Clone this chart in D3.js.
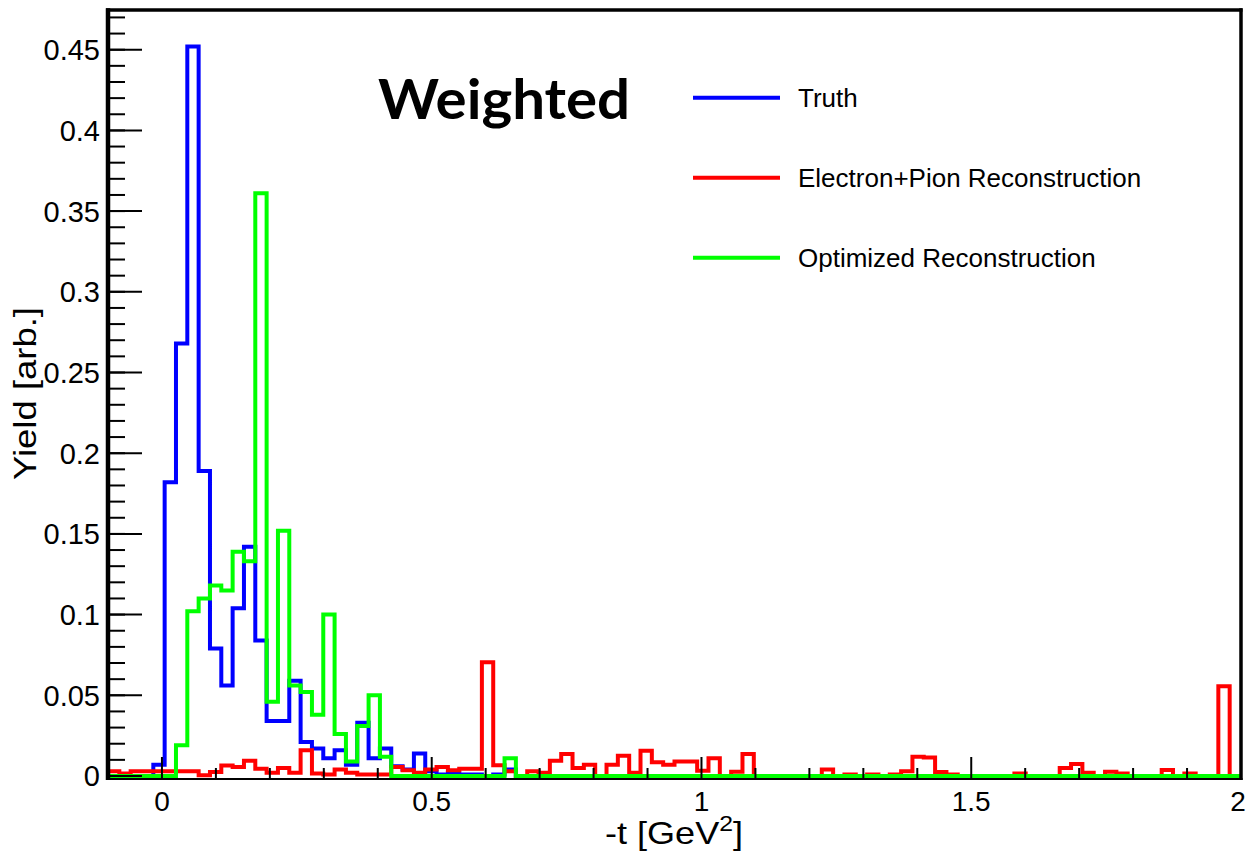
<!DOCTYPE html>
<html>
<head>
<meta charset="utf-8">
<script src="https://cdn.jsdelivr.net/npm/d3@7"></script>
<style>
  body { margin: 0; background: #fff; }
  text { font-family: "Liberation Sans", Arial, Helvetica, sans-serif; fill: #000; }
</style>
</head>
<body>
<div id="chart"></div>
<script>
// Histogram range: 100 bins from -0.1 to 2.0 in -t
const xLo = -0.1, xHi = 2.0, nBins = 100;
const yMax = 0.4746;

// Bin contents (bin 0 starts at -0.1)
const truth = [
  0, 0, 0, 0, 0.007, 0.182, 0.268, 0.452, 0.189, 0.079,
  0.056, 0.104, 0.142, 0.084, 0.034, 0.034, 0.059, 0.021, 0.017, 0.011,
  0.016, 0.007, 0.033, 0.011, 0.017, 0.006, 0.004, 0.014, 0.003, 0.001,
  0.002, 0.001, 0.001, 0, 0.001, 0.004, 0, 0, 0, 0,
  0, 0, 0, 0, 0, 0, 0, 0, 0, 0,
  0, 0, 0, 0, 0, 0, 0, 0, 0, 0,
  0, 0, 0, 0, 0, 0, 0, 0, 0, 0,
  0, 0, 0, 0, 0, 0, 0, 0, 0, 0,
  0, 0, 0, 0, 0, 0, 0, 0, 0, 0,
  0, 0, 0, 0, 0, 0, 0, 0, 0, 0
];
const electronPion = [
  0.003, 0.0015, 0.003, 0.003, 0.003, 0.003, 0.003, 0.003, 0.0005, 0.0025,
  0.0065, 0.0055, 0.0095, 0.0045, 0.002, 0.005, 0.002, 0.016, 0.0015, 0.001,
  0.004, 0.002, 0.001, 0.001, 0.001, 0.0055, 0.0035, 0.002, 0.004, 0.0055,
  0.0035, 0.0045, 0.0045, 0.0705, 0.0066, 0.003, 0, 0.003, 0.002, 0.0095,
  0.0136, 0.005, 0.007, 0, 0.007, 0.0126, 0.002, 0.0157, 0.0085, 0.007,
  0.009, 0.009, 0.0033, 0.011, 0, 0.0027, 0.0136, 0, 0, 0,
  0, 0, 0, 0.004, 0, 0.001, 0, 0.001, 0, 0.001,
  0.003, 0.012, 0.0115, 0.0025, 0.001, 0, 0, 0, 0, 0,
  0.0015, 0, 0, 0, 0.005, 0.0074, 0.002, 0, 0.0027, 0.0015,
  0, 0, 0, 0.0037, 0, 0.0015, 0, 0, 0.0556, 0
];
const optimized = [
  0, 0, 0, 0, 0, 0, 0.019, 0.102, 0.110, 0.118,
  0.115, 0.139, 0.133, 0.361, 0.046, 0.152, 0.056, 0.052, 0.038, 0.100,
  0.026, 0.009, 0.031, 0.050, 0.012, 0, 0, 0, 0, 0,
  0, 0, 0, 0, 0, 0.011, 0, 0, 0, 0,
  0, 0, 0, 0, 0, 0, 0, 0, 0, 0,
  0, 0, 0, 0, 0, 0, 0, 0, 0, 0,
  0, 0, 0, 0, 0, 0, 0, 0, 0, 0,
  0, 0, 0, 0, 0, 0, 0, 0, 0, 0,
  0, 0, 0, 0, 0, 0, 0, 0, 0, 0,
  0, 0, 0, 0, 0, 0, 0, 0, 0, 0
];

const seriesNames = ["Truth", "Electron+Pion Reconstruction", "Optimized Reconstruction"];
const seriesColors = ["#0000ff", "#ff0000", "#00ff00"];
const xMajor = [0, 0.5, 1, 1.5, 2];
const xMinor = [-0.1, 0.1, 0.2, 0.3, 0.4, 0.6, 0.7, 0.8, 0.9, 1.1, 1.2, 1.3, 1.4, 1.6, 1.7, 1.8, 1.9];
const yMajor = [0, 0.05, 0.1, 0.15, 0.2, 0.25, 0.3, 0.35, 0.4, 0.45];

const width = 1247, height = 853;
const frame = { left: 108, right: 1241, top: 10, bottom: 776 };

const svg = d3.select("#chart")
  .append("svg")
  .attr("width", width)
  .attr("height", height);

const x = d3.scaleLinear().domain([xLo, xHi]).range([frame.left, frame.right]);
const y = d3.scaleLinear().domain([0, yMax]).range([frame.bottom, frame.top]);

// bin edges
const edges = d3.range(nBins + 1).map(i => xLo + i * (xHi - xLo) / nBins);

const stepLine = d3.line()
  .x(d => x(d[0]))
  .y(d => y(d[1]))
  .curve(d3.curveStepAfter);

function histPoints(vals) {
  const pts = [[edges[0], 0]];
  vals.forEach((v, i) => pts.push([edges[i], v]));
  pts.push([edges[nBins], vals[nBins - 1]]);
  pts.push([edges[nBins], 0]);
  return pts;
}

// Frame bottom line sits just under the zero level
const xBase = 779;
svg.append("line").attr("x1", frame.left - 2).attr("x2", frame.right + 1.5)
  .attr("y1", xBase).attr("y2", xBase).attr("stroke", "#000").attr("stroke-width", 2.2);

// Histograms: truth first, green drawn last (on top)
[truth, electronPion, optimized].forEach((vals, i) => {
  svg.append("path")
    .attr("d", stepLine(histPoints(vals)))
    .attr("fill", "none")
    .attr("stroke", seriesColors[i])
    .attr("stroke-width", 4)
    .attr("stroke-linejoin", "miter");
});

// Y axis ticks (pointing inward)
const yMinor = d3.range(0, yMax, 0.01);
svg.append("g").selectAll("line")
  .data(yMinor)
  .enter().append("line")
  .attr("x1", frame.left).attr("x2", frame.left + 17)
  .attr("y1", d => y(d)).attr("y2", d => y(d))
  .attr("stroke", "#000").attr("stroke-width", 2);
svg.append("g").selectAll("line")
  .data(yMajor)
  .enter().append("line")
  .attr("x1", frame.left).attr("x2", frame.left + 34)
  .attr("y1", d => y(d)).attr("y2", d => y(d))
  .attr("stroke", "#000").attr("stroke-width", 2);

// X axis ticks
svg.append("g").selectAll("line")
  .data(xMinor)
  .enter().append("line")
  .attr("x1", d => x(d)).attr("x2", d => x(d))
  .attr("y1", xBase).attr("y2", xBase - 11)
  .attr("stroke", "#000").attr("stroke-width", 2);
svg.append("g").selectAll("line")
  .data(xMajor)
  .enter().append("line")
  .attr("x1", d => x(d)).attr("x2", d => x(d))
  .attr("y1", xBase).attr("y2", xBase - 22)
  .attr("stroke", "#000").attr("stroke-width", 2);

// Rest of frame
svg.append("line").attr("x1", frame.left - 2).attr("x2", frame.right + 1.5)
  .attr("y1", frame.top).attr("y2", frame.top).attr("stroke", "#000").attr("stroke-width", 3.5);
svg.append("line").attr("x1", frame.left).attr("x2", frame.left)
  .attr("y1", frame.top - 1.75).attr("y2", xBase + 1.1).attr("stroke", "#000").attr("stroke-width", 4.5);
svg.append("line").attr("x1", frame.right).attr("x2", frame.right)
  .attr("y1", frame.top - 1.75).attr("y2", xBase + 1.1).attr("stroke", "#000").attr("stroke-width", 3.5);

// Tick labels
const fmt = d => d === 0 ? "0" : String(+d.toFixed(2));
svg.append("g").selectAll("text")
  .data(yMajor)
  .enter().append("text")
  .attr("x", 100)
  .attr("y", d => y(d))
  .attr("dy", "0.36em")
  .attr("text-anchor", "end")
  .style("font-size", "29px")
  .text(fmt);
svg.append("g").selectAll("text")
  .data(xMajor)
  .enter().append("text")
  .attr("x", d => Math.min(x(d), width - 9))
  .attr("y", 811)
  .attr("text-anchor", "middle")
  .style("font-size", "28px")
  .text(fmt);

// Axis titles
const xt = svg.append("text")
  .attr("x", 674)
  .attr("y", 844)
  .attr("text-anchor", "middle")
  .attr("textLength", 138)
  .attr("lengthAdjust", "spacingAndGlyphs")
  .style("font-size", "32px");
xt.append("tspan").text("-t [GeV");
xt.append("tspan").attr("dy", -13).style("font-size", "22px").text("2");
xt.append("tspan").attr("dy", 13).text("]");

svg.append("text")
  .attr("transform", "translate(35.5,393.5) rotate(-90)")
  .attr("text-anchor", "middle")
  .attr("textLength", 173)
  .attr("lengthAdjust", "spacingAndGlyphs")
  .style("font-size", "32px")
  .text("Yield [arb.]");

// Legend
const legendY = [97.7, 177.7, 257.7];
const legend = svg.append("g").selectAll("g")
  .data(seriesNames)
  .enter().append("g");
legend.append("line")
  .attr("x1", 693).attr("x2", 780)
  .attr("y1", (d, i) => legendY[i]).attr("y2", (d, i) => legendY[i])
  .attr("stroke", (d, i) => seriesColors[i])
  .attr("stroke-width", 4);
legend.append("text")
  .attr("x", 798)
  .attr("y", (d, i) => legendY[i] + 9.5)
  .style("font-size", "26px")
  .text(d => d);

// Label
svg.append("text")
  .attr("x", 378)
  .attr("y", 119)
  .attr("textLength", 252)
  .attr("lengthAdjust", "spacingAndGlyphs")
  .style("font-family", "Lato, 'Open Sans', sans-serif")
  .style("font-weight", 700)
  .style("font-size", "56px")
  .text("Weighted");
</script>
</body>
</html>
